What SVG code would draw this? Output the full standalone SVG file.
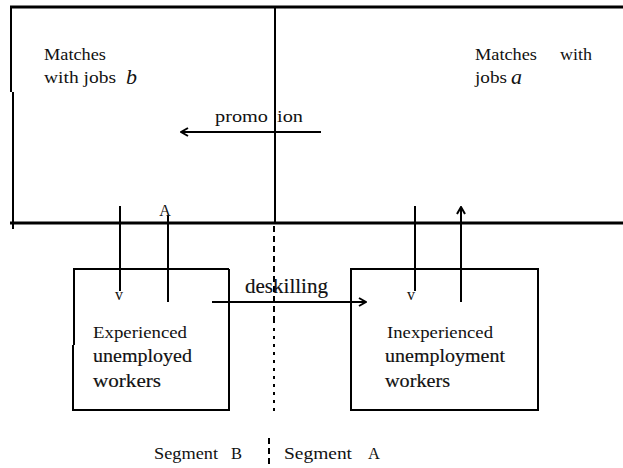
<svg xmlns="http://www.w3.org/2000/svg" width="623" height="468" viewBox="0 0 623 468">
<style>
  text { font-family: 'Liberation Serif', 'Times New Roman', Times, serif; fill: #111; }
  .t { font-size: 16.5px; }
  .tb { font-size: 18px; stroke: #111; stroke-width: 0.15px; }
  .it { font-style: italic; font-size: 22px; }
  .sm { font-size: 16px; }
  .ln { stroke: #000; fill: none; stroke-width: 2; }
  .thick { stroke: #000; fill: none; stroke-width: 3; }
  .dash { stroke: #000; fill: none; stroke-width: 2; stroke-dasharray: 6 4; }
  .dot { stroke: #000; fill: none; stroke-width: 2; stroke-dasharray: 3 5; }
</style>
<defs>
  <marker id="chev" viewBox="0 0 10 10" refX="9" refY="5" markerWidth="10" markerHeight="10" markerUnits="userSpaceOnUse" orient="auto">
    <path d="M2,1 L9,5 L2,9" fill="none" stroke="#000" stroke-width="2"/>
  </marker>
</defs>
<rect width="623" height="468" fill="#fff"/>

<g id="jobs-region">
  <line class="thick" x1="10" y1="7" x2="623" y2="7"/>
  <line class="ln" x1="11" y1="6" x2="11" y2="92"/>
  <line class="ln" x1="13" y1="92" x2="13" y2="229"/>
  <line class="thick" x1="10" y1="223" x2="623" y2="223"/>
  <line class="ln" x1="275" y1="7" x2="275" y2="223"/>
</g>

<g id="jobs-b">
  <text class="t" x="44" y="60" textLength="62" lengthAdjust="spacingAndGlyphs">Matches</text>
  <text class="t" x="44" y="83" textLength="72" lengthAdjust="spacingAndGlyphs">with jobs</text>
  <text class="it" x="126" y="84">b</text>
</g>

<g id="jobs-a">
  <text class="t" x="475" y="60" textLength="62" lengthAdjust="spacingAndGlyphs">Matches</text>
  <text class="t" x="560" y="60" textLength="32" lengthAdjust="spacingAndGlyphs">with</text>
  <text class="t" x="475" y="83" textLength="32" lengthAdjust="spacingAndGlyphs">jobs</text>
  <text class="it" x="511" y="84">a</text>
</g>

<g id="experienced">
  <path class="ln" d="M73,269 L229,269 M74,269 L74,345 M73,345 L73,410 L229,410 L229,269"/>
  <text class="t" x="93" y="338" textLength="94" lengthAdjust="spacingAndGlyphs">Experienced</text>
  <text class="tb" x="93" y="362" textLength="99" lengthAdjust="spacingAndGlyphs">unemployed</text>
  <text class="tb" x="93" y="387" textLength="68" lengthAdjust="spacingAndGlyphs">workers</text>
</g>

<g id="inexperienced">
  <rect class="ln" x="351" y="269" width="187" height="141"/>
  <text class="t" x="387" y="338" textLength="106" lengthAdjust="spacingAndGlyphs">Inexperienced</text>
  <text class="tb" x="385" y="362" textLength="120" lengthAdjust="spacingAndGlyphs">unemployment</text>
  <text class="tb" x="385" y="387" textLength="65" lengthAdjust="spacingAndGlyphs">workers</text>
</g>

<g id="segment-divider">
  <line class="dash" x1="274" y1="226" x2="274" y2="320"/>
  <line class="dot" x1="274" y1="320" x2="274" y2="414"/>
  <line class="dash" x1="269" y1="438" x2="269" y2="468" stroke-dasharray="5 4"/>
</g>

<g id="connectors">
  <line class="ln" x1="321" y1="132" x2="181" y2="132" marker-end="url(#chev)"/>
  <text class="t" x="215" y="122" textLength="53" lengthAdjust="spacingAndGlyphs">promo</text>
  <text class="t" x="277" y="122" textLength="26" lengthAdjust="spacingAndGlyphs">ion</text>

  <line class="ln" x1="120" y1="206" x2="120" y2="291"/>
  <text class="sm" x="119" y="300" text-anchor="middle">v</text>
  <line class="ln" x1="168" y1="215" x2="168" y2="302"/>
  <text class="sm" x="165" y="216" text-anchor="middle">A</text>

  <line class="ln" x1="415" y1="206" x2="415" y2="291"/>
  <text class="sm" x="411" y="300" text-anchor="middle">v</text>
  <line class="ln" x1="461" y1="302" x2="461" y2="207" marker-end="url(#chev)"/>

  <line class="ln" x1="212" y1="302" x2="366" y2="302" marker-end="url(#chev)"/>
  <text class="tb" x="245" y="293" textLength="83" lengthAdjust="spacingAndGlyphs" style="font-size:20px">deskilling</text>
</g>

<g id="segments">
  <text class="t" x="154" y="459" textLength="64" lengthAdjust="spacingAndGlyphs">Segment</text>
  <text class="t" x="231" y="459">B</text>
  <text class="t" x="284" y="459" textLength="68" lengthAdjust="spacingAndGlyphs">Segment</text>
  <text class="t" x="368" y="459">A</text>
</g>
</svg>
